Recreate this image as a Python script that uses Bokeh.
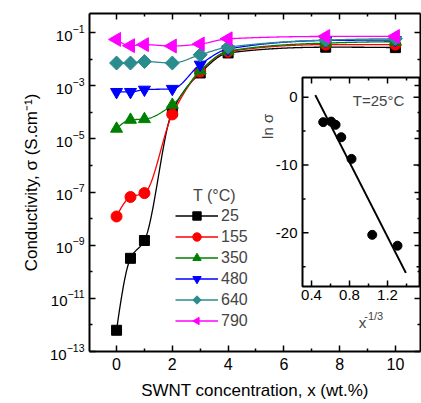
import numpy as np
from bokeh.plotting import figure
from bokeh.models import (Range1d, LinearAxis, LogAxis, LinearScale, FixedTicker, Legend, LegendItem,
                          Label, CustomJSTickFormatter)
from bokeh.core.properties import value
from bokeh.embed import file_html
from bokeh.resources import INLINE

# ---------------- data ----------------
conc = [0, 0.5, 1, 2, 3, 4, 7.5, 10]            # SWNT wt.%
temps = ["25", "155", "350", "480", "640", "790"]
sigma_25 = [6.3e-13, 3.2e-10, 1.5e-9, 1.1e-4, 3.0e-3, 1.7e-2, 2.8e-2, 2.7e-2]
sigma_155 = [1.2e-8, 6.5e-8, 9.1e-8, 8.3e-5, 3.4e-3, 1.9e-2, 3.5e-2, 3.5e-2]
sigma_350 = [2.4e-5, 5.2e-5, 5.5e-5, 1.9e-4, 3.7e-3, 2.0e-2, 4.0e-2, 4.5e-2]
sigma_480 = [5.8e-4, 5.8e-4, 7.1e-4, 7.6e-4, 6.2e-3, 2.4e-2, 5.0e-2, 5.2e-2]
sigma_640 = [7.1e-3, 7.1e-3, 8.1e-3, 7.1e-3, 1.45e-2, 2.8e-2, 5.2e-2, 5.8e-2]
sigma_790 = [5.5e-2, 3.2e-2, 3.5e-2, 3.1e-2, 3.7e-2, 5.8e-2, 7.1e-2, 7.1e-2]

inset_x = [0.523, 0.607, 0.653, 0.713, 0.821, 1.039, 1.305]   # x^-1/3
inset_ln_sigma = [-3.68, -3.6, -4.07, -5.9, -9.1, -20.3, -21.9]
fit_slope = -27.5
fit_intercept = 12.4
fit_x_span = [0.44, 1.393]

x_ticks = [0, 2, 4, 6, 8, 10]
x_minor = [1, 3, 5, 7, 9]
y_ticks = [1e-13, 1e-11, 1e-9, 1e-7, 1e-5, 1e-3, 1e-1]
y_minor = [1e-12, 1e-10, 1e-8, 1e-6, 1e-4, 1e-2]
ix_ticks = [0.4, 0.8, 1.2]
ix_minor = [0.6, 1.0, 1.4]
iy_ticks = [0, -10, -20]
iy_minor = [-5, -15, -25]

series = [sigma_25, sigma_155, sigma_350, sigma_480, sigma_640, sigma_790]
colors = ["#000000", "#ff0000", "#008000", "#0000ff", "#2a8c8c", "#ff00ff"]
# (kind, size/radius, polygon sides, rotation)
markers = [("square", 10, 0, 0.0), ("circle", 11, 0, 0.0), ("triangle", 12, 0, 0.0),
           ("inverted_triangle", 12, 0, 0.0), ("ngon", 7, 4, 0.0), ("ngon", 8, 3, np.pi / 2)]

FONT = "Liberation Sans"


def pchip(x, y, xs):
    x = np.asarray(x, float)
    y = np.asarray(y, float)
    h = np.diff(x)
    d = np.diff(y) / h
    n = len(x)
    m = np.zeros(n)
    for k in range(1, n - 1):
        if d[k - 1] * d[k] > 0:
            w1 = 2 * h[k] + h[k - 1]
            w2 = h[k] + 2 * h[k - 1]
            m[k] = (w1 + w2) / (w1 / d[k - 1] + w2 / d[k])

    def end(h0, h1, d0, d1):
        mm = ((2 * h0 + h1) * d0 - h0 * d1) / (h0 + h1)
        if np.sign(mm) != np.sign(d0):
            mm = 0.0
        elif np.sign(d0) != np.sign(d1) and abs(mm) > abs(3 * d0):
            mm = 3 * d0
        return mm

    m[0] = end(h[0], h[1], d[0], d[1])
    m[-1] = end(h[-1], h[-2], d[-1], d[-2])
    idx = np.clip(np.searchsorted(x, xs) - 1, 0, n - 2)
    t = (xs - x[idx]) / h[idx]
    h00 = 2 * t**3 - 3 * t**2 + 1
    h10 = t**3 - 2 * t**2 + t
    h01 = -2 * t**3 + 3 * t**2
    h11 = t**3 - t**2
    return h00 * y[idx] + h10 * h[idx] * m[idx] + h01 * y[idx + 1] + h11 * h[idx] * m[idx + 1]


# ---------------- figure ----------------
FRAME_W, FRAME_H = 331, 338
p = figure(width=421, height=403,
           x_range=Range1d(-0.97, 10.9), y_range=Range1d(1e-13, 10 ** -0.285),
           y_axis_type="log", output_backend="svg", toolbar_location=None,
           min_border_left=89, min_border_right=1, min_border_top=13, min_border_bottom=52)
p.outline_line_color = None
p.xgrid.visible = False
p.ygrid.visible = False
p.background_fill_color = "white"
p.border_fill_color = "white"

blank = CustomJSTickFormatter(code="return ''")


def style_axis(ax, labels=True, size="15px"):
    ax.axis_line_width = 2
    ax.axis_line_color = "black"
    ax.major_tick_in = 6
    ax.major_tick_out = 0
    ax.minor_tick_in = 3
    ax.minor_tick_out = 0
    ax.major_tick_line_width = 1.5
    ax.minor_tick_line_width = 1.5
    ax.major_tick_line_color = "black"
    ax.minor_tick_line_color = "black"
    ax.major_label_text_font = FONT
    ax.major_label_text_font_size = size
    ax.major_label_text_color = "black"
    ax.axis_label_text_font = FONT
    ax.axis_label_text_font_style = "normal"
    ax.axis_label_text_color = "black"
    if not labels:
        ax.formatter = blank
        ax.major_label_standoff = 0


xax = p.xaxis[0]
xax.ticker = FixedTicker(ticks=x_ticks, minor_ticks=x_minor)
style_axis(xax, size="16px")
xax.major_label_standoff = 6
xax.axis_label = "SWNT concentration, x (wt.%)"
xax.axis_label_text_font_size = "17px"
xax.axis_label_standoff = 8

yax = p.yaxis[0]
yax.ticker = FixedTicker(ticks=y_ticks, minor_ticks=y_minor)
style_axis(yax, size="15px")
yax.major_label_standoff = 5
yax.axis_label = "Conductivity, σ (S.cm⁻¹)"
yax.axis_label_text_font_size = "17px"
yax.axis_label_standoff = 6

top_ax = LinearAxis(ticker=FixedTicker(ticks=x_ticks, minor_ticks=x_minor))
style_axis(top_ax, labels=False)
p.add_layout(top_ax, "above")
right_ax = LogAxis(ticker=FixedTicker(ticks=y_ticks, minor_ticks=y_minor))
style_axis(right_ax, labels=False)
p.add_layout(right_ax, "right")

# ---------------- main series ----------------
xs = np.linspace(conc[0], conc[-1], 400)
items = []
for lab, s, c, (mk, sz, nside, rot) in zip(temps, series, colors, markers):
    ys = 10 ** pchip(conc, np.log10(s), xs)
    lr = p.line(xs, ys, line_color=c, line_width=1.3)
    if mk == "ngon":
        sr = p.ngon(x=conc, y=s, radius=sz, radius_units="screen", n=nside, angle=rot,
                    fill_color=c, line_color=c)
    else:
        sr = p.scatter(conc, s, marker=mk, size=sz, fill_color=c, line_color=c)
    items.append(LegendItem(label=lab, renderers=[lr, sr]))

legend = Legend(items=items, location=(86, 20), padding=0, margin=0, spacing=0,
                glyph_width=43, glyph_height=21, label_height=21, label_standoff=3,
                label_text_font=FONT, label_text_font_size="16px",
                border_line_color=None, background_fill_alpha=0)
p.add_layout(legend, "center")
p.add_layout(Label(x=3.51, y=10 ** -7.13, text="T (°C)", text_font=FONT, text_font_size="16px",
                   text_align="center", text_baseline="middle"))

# ---------------- inset (own linear scales) ----------------
ixr = Range1d(-1.937, 1.547)
iyr = Range1d(-37.5, 12.34)
p.extra_x_ranges = {"ix": ixr}
p.extra_y_ranges = {"iy": iyr}
p.extra_x_scales = {"ix": LinearScale()}
p.extra_y_scales = {"iy": LinearScale()}
R = dict(x_range_name="ix", y_range_name="iy")
ib = (0.305, 1.537, -27.9, 2.9)           # inset box: left, right, bottom, top
pxx = (ixr.end - ixr.start) / FRAME_W     # data units per pixel
pxy = (iyr.end - iyr.start) / FRAME_H

p.quad(left=ib[0], right=ib[1], bottom=ib[2], top=ib[3], fill_color="white",
       line_color="black", line_width=2, **R)

# ticks
yt = np.array(iy_ticks + iy_minor, float)
ylen = np.array([6] * len(iy_ticks) + [3] * len(iy_minor)) * pxx
xt = np.array(ix_ticks + ix_minor, float)
xlen = np.array([6] * len(ix_ticks) + [3] * len(ix_minor)) * pxy
p.segment(x0=np.full(len(yt), ib[0]), y0=yt, x1=ib[0] + ylen, y1=yt, line_color="black", line_width=1.5, **R)
p.segment(x0=np.full(len(yt), ib[1]), y0=yt, x1=ib[1] - ylen, y1=yt, line_color="black", line_width=1.5, **R)
p.segment(x0=xt, y0=np.full(len(xt), ib[2]), x1=xt, y1=ib[2] + xlen, line_color="black", line_width=1.5, **R)
p.segment(x0=xt, y0=np.full(len(xt), ib[3]), x1=xt, y1=ib[3] - xlen, line_color="black", line_width=1.5, **R)

# tick labels
p.text(x=np.full(len(iy_ticks), ib[0] - 5 * pxx), y=iy_ticks, text=[str(v) for v in iy_ticks],
       text_align="right", text_baseline="middle", text_font=value(FONT), text_font_size="15px", **R)
p.text(x=ix_ticks, y=np.full(len(ix_ticks), ib[2] - 4 * pxy), text=[f"{v:.1f}" for v in ix_ticks],
       text_align="center", text_baseline="top", text_font=value(FONT), text_font_size="15px", **R)

fx = np.array(fit_x_span)
p.line(fx, fit_intercept + fit_slope * fx, line_color="black", line_width=2, **R)
p.scatter(inset_x, inset_ln_sigma, marker="circle", size=9, fill_color="black", line_color="black", **R)

p.add_layout(Label(x=1.105, y=-0.5, text="T=25°C", text_font=FONT, text_font_size="15px",
                   text_align="center", text_baseline="middle", **R))
p.add_layout(Label(x=-0.063, y=-4.3, text="ln σ", angle=90, angle_units="deg",
                   text_font=FONT, text_font_size="15px", text_align="center", text_baseline="middle", **R))
p.add_layout(Label(x=0.937, y=-33.2, text="x", text_font=FONT, text_font_size="15px",
                   text_align="center", text_baseline="middle", **R))
p.add_layout(Label(x=0.955, y=-32.2, text="-1/3", text_font=FONT, text_font_size="11px",
                   text_align="left", text_baseline="middle", **R))

open("out.html", "w").write(file_html(p, INLINE))
